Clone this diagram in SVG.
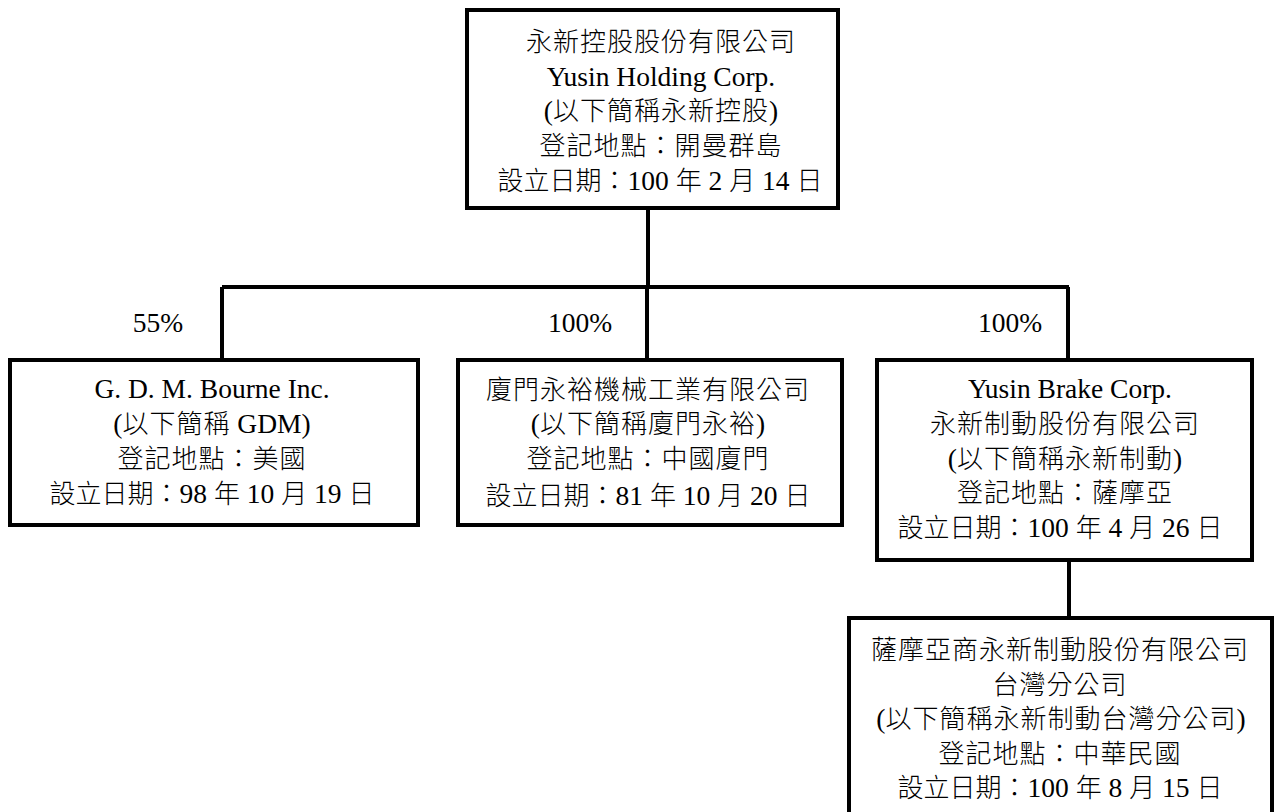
<svg xmlns="http://www.w3.org/2000/svg" width="1275" height="812" viewBox="0 0 1275 812">
<style>
.box{fill:#fff;stroke:#000;stroke-width:4}
.ln{fill:none;stroke:#000;stroke-width:4}
text{font-family:"Noto Sans CJK TC","Liberation Serif",sans-serif;font-size:26px;font-weight:300;fill:#000;text-anchor:middle}
.cj{letter-spacing:1px}
.l{font-family:"Liberation Serif",serif;font-size:27.5px;font-weight:400;letter-spacing:0}
</style>
<rect width="1275" height="812" fill="#fff"/>
<g id="connectors">
<path class="ln" d="M648 208V287M222 287H1069M222 287V360M647 287V360M1068 287V360M1069 560V618"/>
<text x="158" y="332" class="l">55%</text>
<text x="580" y="332" class="l">100%</text>
<text x="1010" y="332" class="l">100%</text>
</g>
<g id="holding">
<rect class="box" x="467" y="10" width="371" height="198"/>
<text x="661" y="51" class="cj">永新控股股份有限公司</text>
<text x="661" y="86" class="l">Yusin Holding Corp.</text>
<text x="661" y="120" class="cj"><tspan class="l">(</tspan>以下簡稱永新控股<tspan class="l">)</tspan></text>
<text x="661" y="155" class="cj">登記地點：開曼群島</text>
<text x="660" y="190">設立日期：<tspan class="l">100 </tspan>年<tspan class="l"> 2 </tspan>月<tspan class="l"> 14 </tspan>日</text>
</g>
<g id="gdm">
<rect class="box" x="10" y="360" width="408" height="165"/>
<text x="212" y="398" class="l">G. D. M. Bourne Inc.</text>
<text x="212" y="433" class="cj"><tspan class="l">(</tspan>以下簡稱<tspan class="l"> GDM)</tspan></text>
<text x="212" y="468" class="cj">登記地點：美國</text>
<text x="212" y="503">設立日期：<tspan class="l">98 </tspan>年<tspan class="l"> 10 </tspan>月<tspan class="l"> 19 </tspan>日</text>
</g>
<g id="xiamen">
<rect class="box" x="458" y="360" width="384" height="165"/>
<text x="648" y="399" class="cj">廈門永裕機械工業有限公司</text>
<text x="648" y="433" class="cj"><tspan class="l">(</tspan>以下簡稱廈門永裕<tspan class="l">)</tspan></text>
<text x="648" y="468" class="cj">登記地點：中國廈門</text>
<text x="648" y="505">設立日期：<tspan class="l">81 </tspan>年<tspan class="l"> 10 </tspan>月<tspan class="l"> 20 </tspan>日</text>
</g>
<g id="brake">
<rect class="box" x="877" y="360" width="375" height="200"/>
<text x="1070" y="398" class="l">Yusin Brake Corp.</text>
<text x="1065" y="433" class="cj">永新制動股份有限公司</text>
<text x="1065" y="468" class="cj"><tspan class="l">(</tspan>以下簡稱永新制動<tspan class="l">)</tspan></text>
<text x="1065" y="502" class="cj">登記地點：薩摩亞</text>
<text x="1060" y="537">設立日期：<tspan class="l">100 </tspan>年<tspan class="l"> 4 </tspan>月<tspan class="l"> 26 </tspan>日</text>
</g>
<g id="taiwan">
<rect class="box" x="849" y="618" width="423" height="200"/>
<text x="1060" y="659" class="cj">薩摩亞商永新制動股份有限公司</text>
<text x="1060" y="694" class="cj">台灣分公司</text>
<text x="1061" y="728" class="cj"><tspan class="l">(</tspan>以下簡稱永新制動台灣分公司<tspan class="l">)</tspan></text>
<text x="1060" y="763" class="cj">登記地點：中華民國</text>
<text x="1060" y="797">設立日期：<tspan class="l">100 </tspan>年<tspan class="l"> 8 </tspan>月<tspan class="l"> 15 </tspan>日</text>
</g>
</svg>
